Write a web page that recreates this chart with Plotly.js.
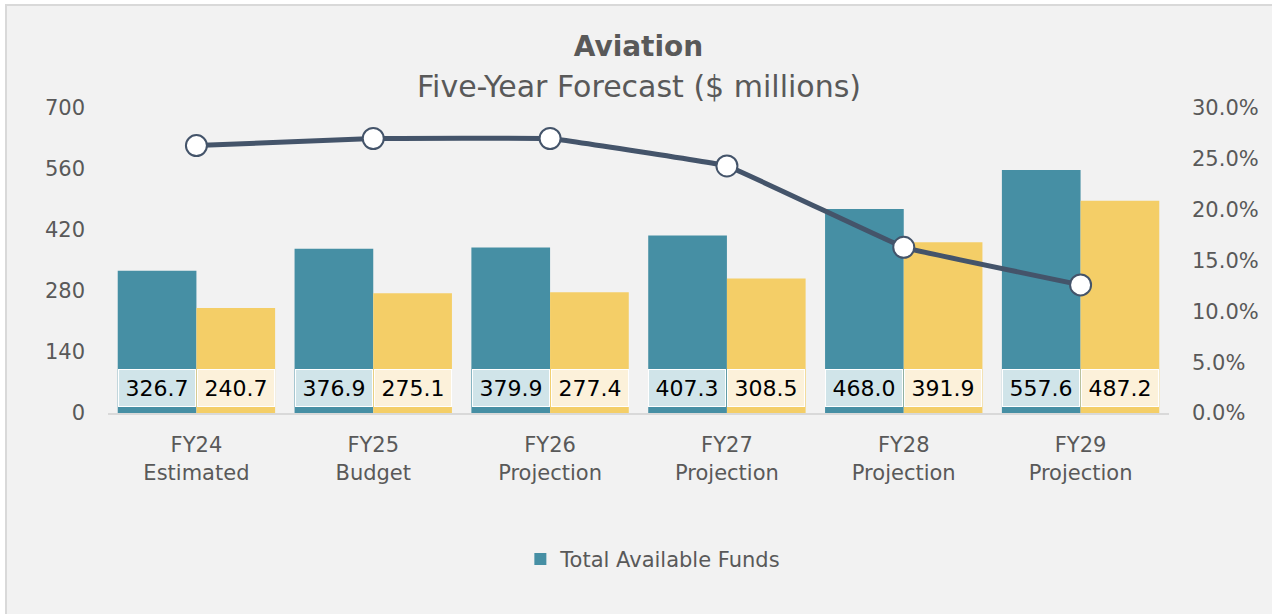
<!DOCTYPE html>
<html>
<head>
<meta charset="utf-8">
<script src="https://cdn.plot.ly/plotly-3.0.1.min.js"></script>
<style>
  html, body { margin: 0; padding: 0; background: #ffffff; width: 1272px; height: 614px; overflow: hidden; }
  #chart { position: absolute; left: 5px; top: 4px; width: 1265px; height: 608px;
           border-left: 2px solid #d9d9d9; border-top: 2px solid #d9d9d9; background: #f2f2f2; }
</style>
</head>
<body>
<div id="chart"></div>
<script>
// ---- data ----
const fiscalYears = ['FY24', 'FY25', 'FY26', 'FY27', 'FY28', 'FY29'];
const stages = ['Estimated', 'Budget', 'Projection', 'Projection', 'Projection', 'Projection'];
const totalAvailableFunds = [326.7, 376.9, 379.9, 407.3, 468.0, 557.6];
const expenditures = [240.7, 275.1, 277.4, 308.5, 391.9, 487.2];
const reservePct = [26.3, 27.0, 27.0, 24.3, 16.3, 12.6];
const leftTicks = [0, 140, 280, 420, 560, 700];
const rightTicks = [0, 5, 10, 15, 20, 25, 30];
const rightTickText = rightTicks.map(v => v.toFixed(1) + '%');

const categories = fiscalYears.map((fy, i) => fy + '<br>' + stages[i]);

const teal = '#468FA4';
const yellow = '#F4CE67';
const slate = '#44546A';
const grey = '#595959';
const FONT = 'DejaVu Sans, Noto Sans, sans-serif';

const traces = [
  {
    type: 'bar', name: 'Total Available Funds', x: categories, y: totalAvailableFunds,
    marker: { color: teal }, yaxis: 'y', showlegend: true, hoverinfo: 'skip'
  },
  {
    type: 'bar', name: 'Expenditures', x: categories, y: expenditures,
    marker: { color: yellow }, yaxis: 'y', showlegend: false, hoverinfo: 'skip'
  },
  {
    type: 'scatter', mode: 'lines+markers', name: 'Reserve %', x: categories, y: reservePct,
    yaxis: 'y2', showlegend: false, hoverinfo: 'skip',
    line: { color: slate, width: 5, shape: 'spline', smoothing: 0.15 },
    marker: { size: 21, color: '#ffffff', line: { color: slate, width: 2 } }
  }
];

// value labels in boxes near the base of each bar
const LABEL_Y = 57;
const annotations = [];
categories.forEach((c, i) => {
  annotations.push({
    x: c, y: LABEL_Y, xref: 'x', yref: 'y', xshift: -39.5, showarrow: false,
    text: totalAvailableFunds[i].toFixed(1), bgcolor: '#D0E4E9',
    width: 76, height: 36, borderpad: 0, borderwidth: 1, bordercolor: '#ffffff',
    font: { family: FONT, size: 22, color: '#000000' }, valign: 'middle'
  });
  annotations.push({
    x: c, y: LABEL_Y, xref: 'x', yref: 'y', xshift: 39.5, showarrow: false,
    text: expenditures[i].toFixed(1), bgcolor: '#FCF1DA',
    width: 76, height: 36, borderpad: 0, borderwidth: 1, bordercolor: '#ffffff',
    font: { family: FONT, size: 22, color: '#000000' }, valign: 'middle'
  });
});
// subtitle line
annotations.push({
  x: 0.5, y: 1.069, xref: 'paper', yref: 'paper', xanchor: 'center', yanchor: 'middle',
  showarrow: false, text: 'Five-Year Forecast ($ millions)',
  font: { family: FONT, size: 30, color: grey }
});

const layout = {
  width: 1265, height: 608,
  margin: { l: 100.5, r: 102.5, t: 102, b: 201, pad: 0 },
  paper_bgcolor: '#f2f2f2', plot_bgcolor: '#f2f2f2',
  font: { family: FONT, color: grey, size: 21 },
  title: {
    text: '<b>Aviation</b>',
    font: { family: FONT, size: 28, color: grey },
    x: 0.5, xref: 'paper', xanchor: 'center',
    y: 0.934, yref: 'container', yanchor: 'middle'
  },
  barmode: 'group', bargap: 0.11, bargroupgap: 0,
  xaxis: {
    type: 'category', showgrid: false, zeroline: false,
    showline: true, linecolor: '#d9d9d9', linewidth: 2,
    ticks: '', ticklabelstandoff: 12,
    tickfont: { family: FONT, size: 21, color: grey }
  },
  yaxis: {
    range: [0, 700], tickmode: 'array', tickvals: leftTicks, showgrid: false, zeroline: false,
    showline: false, ticks: '', ticklabelstandoff: 22,
    tickfont: { family: FONT, size: 21, color: grey }
  },
  yaxis2: {
    range: [0, 30], tickmode: 'array', tickvals: rightTicks, ticktext: rightTickText,
    overlaying: 'y', side: 'right', showgrid: false, zeroline: false,
    showline: false, ticks: '', ticklabelstandoff: 22,
    tickfont: { family: FONT, size: 21, color: grey }
  },
  showlegend: true,
  legend: {
    orientation: 'h', x: 0.514, xanchor: 'center', y: -0.48, yanchor: 'middle',
    bgcolor: 'rgba(0,0,0,0)', font: { family: FONT, size: 21, color: grey }
  },
  annotations: annotations
};

Plotly.newPlot('chart', traces, layout, { staticPlot: true, displayModeBar: false });
</script>
</body>
</html>
